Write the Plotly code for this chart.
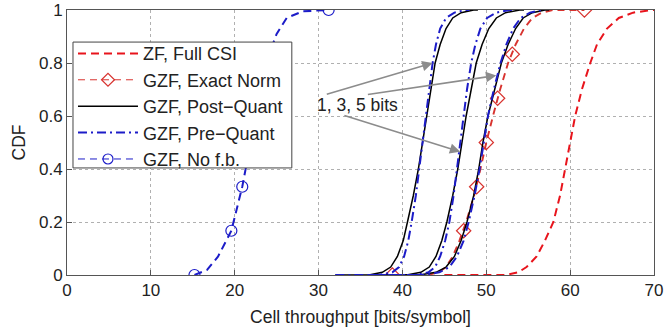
import plotly.graph_objects as go

# CDF levels shared by the quantized curves / full CSI
LEVELS = [0, 0, 0.01, 0.03, 0.07, 0.13, 0.2, 0.3, 0.4, 0.5, 0.6, 0.7, 0.8, 0.87, 0.93, 0.97, 0.99, 1, 1]

ZF_FULL_X = [45.0, 52.3, 53.8, 54.8, 56.0, 57.0, 58.0, 58.8, 59.4, 60.0, 60.6, 61.4, 62.4, 63.2, 64.4, 65.8, 67.5, 69.8, 70.0]

EXACT_X = [38.8, 43.0, 44.3, 45.2, 46.0, 46.8, 47.6, 48.55, 49.3, 50.0, 50.8, 51.65, 52.6, 53.5, 54.5, 55.5, 56.6, 58.0, 61.7]
EXACT_MARK_X = [38.8, 47.3, 48.85, 50.0, 51.35, 53.1, 61.7]
EXACT_MARK_Y = [0, 0.167, 0.333, 0.5, 0.667, 0.833, 1.0]

POST_1_X = [32.0, 36.0, 37.6, 38.6, 39.4, 40.1, 40.6, 41.3, 41.9, 42.4, 42.9, 43.4, 43.9, 44.5, 45.2, 46.0, 47.0, 48.5, 49.0]
POST_3_X = [36.0, 40.5, 42.2, 43.2, 44.0, 44.7, 45.3, 46.0, 46.6, 47.1, 47.6, 48.2, 48.8, 49.5, 50.3, 51.2, 52.3, 54.0, 54.5]
POST_5_X = [37.0, 42.0, 44.0, 45.2, 46.2, 47.0, 47.7, 48.5, 49.1, 49.6, 50.2, 51.0, 51.8, 52.6, 53.5, 54.4, 55.5, 57.0, 57.5]

PRE_1_X = [32.0, 37.2, 38.8, 39.6, 40.2, 40.7, 41.1, 41.6, 42.0, 42.4, 42.8, 43.2, 43.6, 44.0, 44.5, 45.2, 46.2, 47.5, 48.0]
PRE_3_X = [36.0, 41.5, 43.1, 43.9, 44.5, 45.1, 45.6, 46.1, 46.5, 46.9, 47.3, 47.7, 48.2, 48.7, 49.3, 50.1, 51.2, 52.8, 53.3]
PRE_5_X = [37.0, 42.5, 44.4, 45.6, 46.5, 47.3, 47.9, 48.6, 49.2, 49.7, 50.2, 50.9, 51.7, 52.4, 53.2, 54.1, 55.2, 56.5, 57.0]

NOFB_X = [15.2, 16.7, 18.0, 19.6, 20.9, 21.3, 21.9, 22.9, 24.1, 25.0, 26.2, 28.1, 31.2]
NOFB_Y = [0, 0.019, 0.069, 0.167, 0.333, 0.4, 0.5, 0.667, 0.833, 0.91, 0.97, 0.995, 1.0]
NOFB_MARK_X = [15.2, 19.6, 20.9, 21.9, 22.9, 24.1, 31.2]
NOFB_MARK_Y = [0, 0.167, 0.333, 0.5, 0.667, 0.833, 1.0]

X_TICKS = [0, 10, 20, 30, 40, 50, 60, 70]
Y_TICKS = [0, 0.2, 0.4, 0.6, 0.8, 1]
Y_TICK_TEXT = ["0", "0.2", "0.4", "0.6", "0.8", "1"]

LEGEND_NAMES = ["ZF, Full CSI", "GZF, Exact Norm", "GZF, Post\u2212Quant", "GZF, Pre\u2212Quant", "GZF, No f.b."]

RED = "#e8141c"
RED2 = "#d8332f"
BLUE = "#1c1cc8"
BLACK = "#000000"
DASH = "8px,5px"
DASHDOT = "9px,4px,2px,4px"

fig = go.Figure()

# ZF Full CSI
fig.add_trace(go.Scatter(x=ZF_FULL_X, y=LEVELS, mode="lines", name=LEGEND_NAMES[0],
                         line=dict(color=RED, width=2, dash=DASH)))
# Exact norm
fig.add_trace(go.Scatter(x=EXACT_X, y=LEVELS, mode="lines", showlegend=False,
                         line=dict(color=RED2, width=1.9, dash="7px,5px")))
fig.add_trace(go.Scatter(x=EXACT_MARK_X, y=EXACT_MARK_Y, mode="markers", showlegend=False,
                         marker=dict(symbol="diamond-open", size=11, color=RED2, line=dict(width=1.2))))
fig.add_trace(go.Scatter(x=[None], y=[None], mode="lines+markers", name=LEGEND_NAMES[1],
                         line=dict(color=RED2, width=1, dash="7px,5px"),
                         marker=dict(symbol="diamond-open", size=10, color=RED2, line=dict(width=1.2))))
# Post-quant
for i, xs in enumerate([POST_1_X, POST_3_X, POST_5_X]):
    fig.add_trace(go.Scatter(x=xs, y=LEVELS, mode="lines", name=LEGEND_NAMES[2],
                             showlegend=(i == 0), legendgroup="post",
                             line=dict(color=BLACK, width=1.5)))
# Pre-quant
for i, xs in enumerate([PRE_1_X, PRE_3_X, PRE_5_X]):
    fig.add_trace(go.Scatter(x=xs, y=LEVELS, mode="lines", name=LEGEND_NAMES[3],
                             showlegend=(i == 0), legendgroup="pre",
                             line=dict(color=BLUE, width=2, dash=DASHDOT)))
# No feedback
fig.add_trace(go.Scatter(x=NOFB_X, y=NOFB_Y, mode="lines", showlegend=False,
                         line=dict(color=BLUE, width=2, dash=DASH)))
fig.add_trace(go.Scatter(x=NOFB_MARK_X, y=NOFB_MARK_Y, mode="markers", showlegend=False,
                         marker=dict(symbol="circle-open", size=11, color=BLUE, line=dict(width=1.2))))
fig.add_trace(go.Scatter(x=[None], y=[None], mode="lines+markers", name=LEGEND_NAMES[4],
                         line=dict(color=BLUE, width=1, dash="7px,5px"),
                         marker=dict(symbol="circle-open", size=10, color=BLUE, line=dict(width=1.2))))

# Annotation arrows
ARROW_COLOR = "#8c8c8c"
TAIL = [(30.8, 0.68), (35.7, 0.68), (32.9, 0.604)]
HEAD = [(43.6, 0.80), (51.2, 0.753), (46.9, 0.465)]
for (tx, ty), (hx, hy) in zip(TAIL, HEAD):
    fig.add_annotation(x=hx, y=hy, ax=tx, ay=ty, xref="x", yref="y", axref="x", ayref="y",
                       text="", showarrow=True, arrowhead=2, arrowsize=1.3, arrowwidth=1.6,
                       arrowcolor=ARROW_COLOR)
fig.add_annotation(x=34.7, y=0.64, xref="x", yref="y", text="1, 3, 5 bits", showarrow=False,
                   font=dict(size=17.5, color="#222"), bgcolor="rgba(0,0,0,0)")

# Legend frame (white box that hides the curves behind it)
fig.add_shape(type="rect", xref="paper", yref="paper", x0=0.0102, x1=0.383, y0=0.404, y1=0.879,
              fillcolor="white", line=dict(color="#444", width=1), layer="above")

axis_common = dict(showline=True, linecolor="#555", linewidth=1, mirror=True,
                   ticks="inside", ticklen=5, tickcolor="#555",
                   showgrid=True, gridcolor="#b0b0b0", griddash="dot", gridwidth=1,
                   zeroline=False, tickfont=dict(size=17, color="#222"), automargin=False)

fig.update_xaxes(range=[0, 70], tickvals=X_TICKS, title=dict(text="Cell throughput [bits/symbol]",
                 font=dict(size=17.5, color="#222"), standoff=11), **axis_common)
fig.update_yaxes(range=[0, 1], tickvals=Y_TICKS, ticktext=Y_TICK_TEXT,
                 title=dict(text="CDF", font=dict(size=17.5, color="#222"), standoff=8), **axis_common)

fig.update_layout(
    width=665, height=330,
    margin=dict(l=67, r=11, t=10, b=55),
    plot_bgcolor="white", paper_bgcolor="white",
    font=dict(family="Liberation Sans, Arial, sans-serif", size=17, color="#222"),
    legend=dict(x=0.0102, y=0.905, xanchor="left", yanchor="top",
                bgcolor="rgba(0,0,0,0)", borderwidth=0,
                font=dict(size=18), itemwidth=60, tracegroupgap=0),
    showlegend=True,
)

fig.write_html("out.html", config={"displayModeBar": False},
               post_script="document.body.style.margin='0';")
